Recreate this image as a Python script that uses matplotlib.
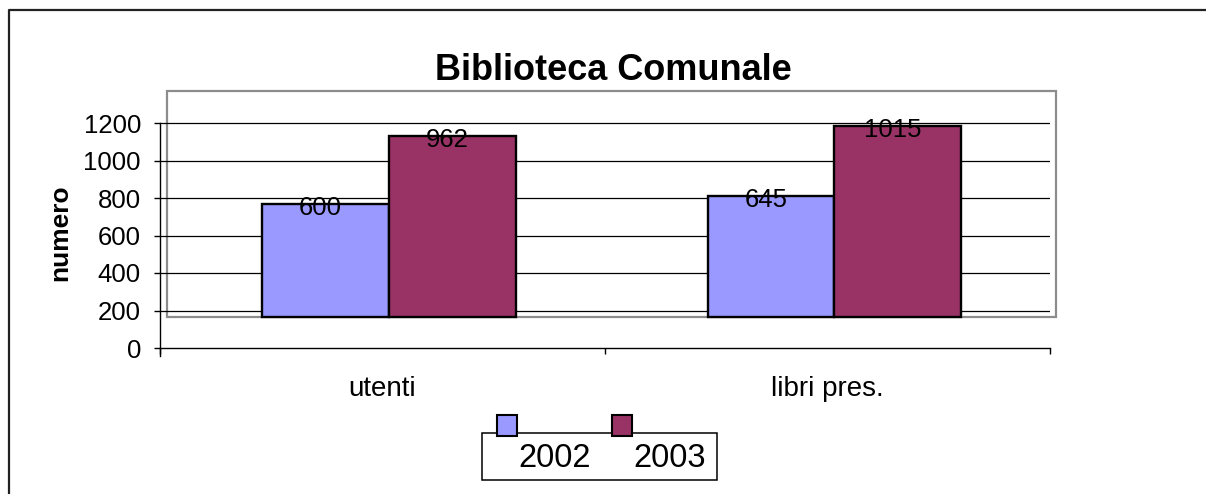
"""Biblioteca Comunale - Excel style pseudo-3D clustered bar chart."""

import matplotlib
matplotlib.use("Agg")
import matplotlib.pyplot as plt
from matplotlib.patches import Rectangle
from matplotlib.lines import Line2D
import numpy as np

# data
categories = ["utenti", "libri pres."]
years = ["2002", "2003"]
values_2002 = [600, 645]
values_2003 = [962, 1015]
y_ticks = [0, 200, 400, 600, 800, 1000, 1200]
colors = ["#9999FF", "#993366"]

W, H = 1206, 494
plt.rcParams["font.family"] = ["Liberation Sans", "DejaVu Sans"]


def px(x, y):
    """pixel coords (top-left origin) -> figure fraction"""
    return x / W, 1 - y / H


fig = plt.figure(figsize=(W / 100, H / 100), dpi=100)

# outer chart frame (only top and left edges visible)
fig.add_artist(Line2D([px(8.5, 0)[0], px(8.5, 0)[0], 1.0],
                      [0.0, px(0, 10.5)[1], px(0, 10.5)[1]],
                      transform=fig.transFigure, color="#222222", lw=1.6))

# axes: front floor from x=160..1050, y=0 at 348px, top of wall at 91px
y0_px, ytop_px = 348, 91
px_per_unit = 37.5 / 200
ymax = (y0_px - ytop_px) / px_per_unit
ax = fig.add_axes([160 / W, 1 - y0_px / H, 890 / W, (y0_px - ytop_px) / H])
ax.set_xlim(0, 2)
ax.set_ylim(0, ymax)
ax.patch.set_alpha(0)

# depth offset of the back wall (pseudo 3D)
depth_dx = 6.5 / 445
depth_dy = 167

# back wall border
ax.add_patch(Rectangle((7 / 445, depth_dy), 2.0135 - 7 / 445, ymax - depth_dy,
                       fill=False, edgecolor="#8c8c8c", lw=1.6, zorder=1, clip_on=False))

# gridlines
for t in y_ticks[1:]:
    ax.axhline(t, xmin=0, xmax=1, color="black", lw=0.9, zorder=2)

# bars
x = np.arange(len(categories)) + 0.5
bar_w = 126.5 / 445
for i, (vals, col) in enumerate(zip([values_2002, values_2003], colors)):
    xs = x + depth_dx + (i - 0.5) * bar_w
    ax.bar(xs, vals, width=bar_w, bottom=depth_dy, color=col,
           edgecolor="black", lw=1.7, zorder=3)
    for xi, v in zip(xs, vals):
        ax.annotate(str(v), (xi, depth_dy + v), xytext=(-3.6, -2.9),
                    textcoords="offset points", ha="center", va="center",
                    fontsize=18.5, zorder=4)

# spines / ticks
for s in ("top", "right"):
    ax.spines[s].set_visible(False)
ax.spines["left"].set_bounds(-43, 1200)
ax.spines["left"].set_linewidth(1.0)
ax.spines["bottom"].set_linewidth(1.0)
ax.set_yticks(y_ticks)
ax.set_yticklabels([str(t) for t in y_ticks])
ax.tick_params(axis="y", direction="out", length=4.3, width=1.0, pad=9.4, labelsize=18.5)
ax.set_xticks([0, 1, 2])
ax.set_xticklabels([])
ax.tick_params(axis="x", which="major", direction="out", length=4.3, width=1.0)
ax.set_xticks(x, minor=True)
ax.set_xticklabels(categories, minor=True)
ax.tick_params(axis="x", which="minor", length=0, pad=20, labelsize=20)

# titles
fig.text(*px(613, 80), "Biblioteca Comunale", ha="center", va="baseline",
         fontsize=26, fontweight="bold")
fig.text(*px(60, 233), "numero", ha="center", va="center", rotation=90,
         fontsize=19, fontweight="bold")

# legend (markers sit above the box, as in the original)
lx0, ly0, lx1, ly1 = 481.5, 432.5, 717, 479.5
fig.add_artist(Rectangle(px(lx0, ly1), (lx1 - lx0) / W, (ly1 - ly0) / H,
                         transform=fig.transFigure, facecolor="white",
                         edgecolor="black", lw=1.1, zorder=5))
marker_x = [497, 612]
text_x = [518, 633]
for mx, tx, col, lab in zip(marker_x, text_x, colors, years):
    fig.add_artist(Rectangle(px(mx, 436), 20 / W, 21 / H, transform=fig.transFigure,
                             facecolor=col, edgecolor="black", lw=1.5, zorder=6))
    fig.text(*px(tx, 467), lab, ha="left", va="baseline", fontsize=23.5, zorder=7)

fig.savefig("out.png", dpi=100)
